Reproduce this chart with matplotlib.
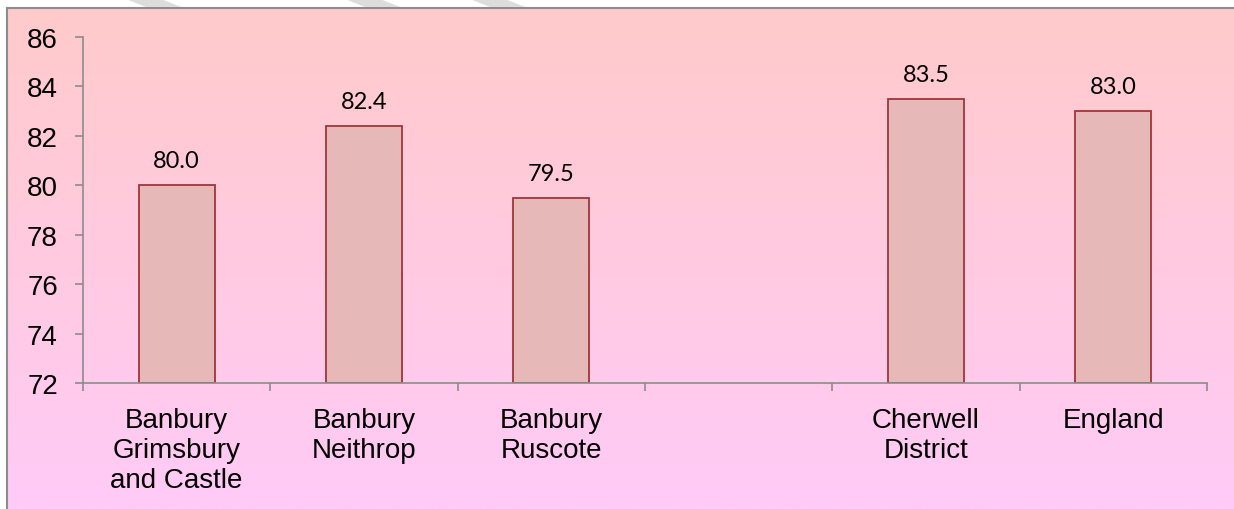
import numpy as np
import matplotlib
matplotlib.use("Agg")
import matplotlib.pyplot as plt
from matplotlib.colors import LinearSegmentedColormap
from matplotlib.patches import Polygon

categories = ["Banbury\nGrimsbury\nand Castle", "Banbury\nNeithrop", "Banbury\nRuscote",
              "", "Cherwell\nDistrict", "England"]
values = [80.0, 82.4, 79.5, None, 83.5, 83.0]
y_ticks = [72, 74, 76, 78, 80, 82, 84, 86]

W, H = 1234, 510
fig = plt.figure(figsize=(W / 100, H / 100), dpi=100)
fig.patch.set_facecolor("white")

# gradient panel behind the chart
bg = fig.add_axes([7 / W, 0, 1 - 7 / W, 1 - 9 / H], zorder=0)
cmap = LinearSegmentedColormap.from_list("pinks", ["#FFCBF7", "#FFCACA"])
bg.imshow(np.linspace(0, 1, 256).reshape(-1, 1), aspect="auto", cmap=cmap,
          origin="lower", extent=[0, 1, 0, 1])
bg.set_xticks([])
bg.set_yticks([])
for s in ["right", "bottom"]:
    bg.spines[s].set_visible(False)
for s in ["left", "top"]:
    bg.spines[s].set_color("#8c8c8c")
    bg.spines[s].set_linewidth(1.5)

# faint watermark stripes in the white strip on top
for x0 in [126, 345, 470]:
    fig.patches.append(Polygon([[x0 / W, 1], [(x0 + 35) / W, 1],
                                [(x0 + 55) / W, 1 - 8 / H], [(x0 + 20) / W, 1 - 8 / H]],
                               closed=True, transform=fig.transFigure,
                               facecolor="#dcdcdc", edgecolor="none", zorder=1))

ax = fig.add_axes([83 / W, 1 - 384 / H, (1207 - 83) / W, (384 - 38) / H], zorder=2)
ax.patch.set_alpha(0)

x = np.arange(len(categories))
for xi, v in zip(x, values):
    if v is None:
        continue
    ax.bar(xi, v - 72, bottom=72, width=0.405, color="#E6B8B7",
           edgecolor="#A0353A", linewidth=1.3)
    ax.annotate(f"{v:.1f}", (xi, v), xytext=(0, 13), textcoords="offset points",
                ha="center", va="baseline", fontsize=17, family="Lato", color="black")

ax.set_xlim(-0.5, len(categories) - 0.5)
ax.set_ylim(72, 86)
ax.set_yticks(y_ticks)
ax.set_yticklabels([str(t) for t in y_ticks], fontsize=20, family="Liberation Sans")
ax.set_xticks(x)
ax.set_xticklabels(categories, fontsize=20, family="Liberation Sans", linespacing=1.22)
ax.set_xticks(np.arange(-0.5, len(categories)), minor=True)
ax.tick_params(axis="x", which="major", length=0, pad=17)
ax.tick_params(axis="x", which="minor", length=6, width=1.2, color="#8c8c8c", direction="out")
ax.tick_params(axis="y", length=6, width=1.2, color="#8c8c8c", direction="out", pad=12)

for s in ["top", "right"]:
    ax.spines[s].set_visible(False)
for s in ["left", "bottom"]:
    ax.spines[s].set_color("#8c8c8c")
    ax.spines[s].set_linewidth(1.2)

fig.savefig("out.png", dpi=100)
